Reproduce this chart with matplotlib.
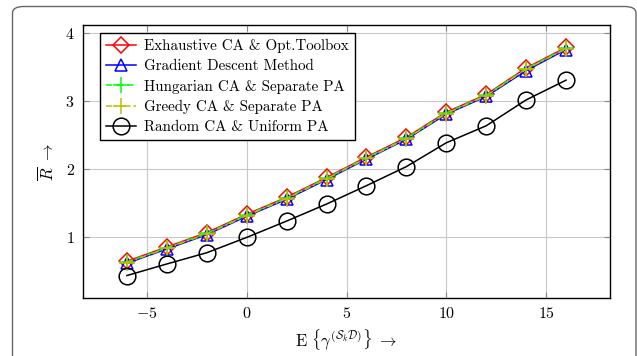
import numpy as np
import matplotlib
matplotlib.use("Agg")
import matplotlib.pyplot as plt
from matplotlib.patches import FancyBboxPatch

plt.rcParams['font.family'] = ['cmr10', 'DejaVu Serif']
plt.rcParams['mathtext.fontset'] = 'cm'
plt.rcParams['axes.formatter.use_mathtext'] = True

# mean SNR values (dB)
snr = [-6, -4, -2, 0, 2, 4, 6, 8, 10, 12, 14, 16]

# average rate per series
exhaustive = [0.65, 0.86, 1.07, 1.34, 1.59, 1.88, 2.18, 2.47, 2.84, 3.10, 3.49, 3.79]
gradient = [0.62, 0.83, 1.04, 1.31, 1.56, 1.85, 2.15, 2.44, 2.81, 3.07, 3.45, 3.76]
hungarian = [0.64, 0.85, 1.06, 1.33, 1.58, 1.87, 2.17, 2.46, 2.83, 3.09, 3.48, 3.78]
greedy = [0.63, 0.84, 1.05, 1.32, 1.57, 1.86, 2.16, 2.45, 2.82, 3.08, 3.47, 3.77]
random_ca = [0.44, 0.61, 0.775, 1.00, 1.24, 1.49, 1.76, 2.04, 2.39, 2.64, 3.02, 3.31]

labels = ["Exhaustive CA & Opt.Toolbox", "Gradient Descent Method",
          "Hungarian CA & Separate PA", "Greedy CA & Separate PA",
          "Random CA & Uniform PA"]

fig = plt.figure(figsize=(6.37, 3.56), dpi=100)

# rounded frame around the figure
frame = FancyBboxPatch((12.5 / 637, -0.2), (636 - 12.5) / 637, 1.2 - 6.5 / 356,
                       boxstyle="round,pad=0,rounding_size=0.018",
                       transform=fig.transFigure, fill=False,
                       edgecolor="#666666", linewidth=1.0, clip_on=False)
fig.patches.append(frame)

ax = fig.add_axes([83 / 637, 1 - 298 / 356, (610 - 83) / 637, (298 - 25) / 356])

ax.plot(snr, exhaustive, color='red', lw=1.1, marker='D', markersize=8,
        mfc='none', mec='red', mew=1.1, label=labels[0])
ax.plot(snr, gradient, color='blue', lw=1.1, marker='^', markersize=9,
        mfc='none', mec='blue', mew=1.1, label=labels[1])
ax.plot(snr, hungarian, color='#00ff00', lw=1.1, ls=(0, (4, 3)), marker='+',
        markersize=11, mew=1.1, label=labels[2])
ax.plot(snr, greedy, color='#bfbf00', lw=1.1, ls=(0, (4, 2, 1, 2)), marker='+',
        markersize=11, mew=1.1, label=labels[3])
ax.plot(snr, random_ca, color='black', lw=1.1, marker='o', markersize=12,
        mfc='none', mec='black', mew=1.1, label=labels[4])

ax.set_xlim(-8.2, 18.2)
ax.set_ylim(0.11, 4.12)
ax.set_xticks([-5, 0, 5, 10, 15])
ax.set_yticks([1, 2, 3, 4])
ax.grid(True, color='#c8c8c8', lw=0.8)
ax.set_axisbelow(True)
ax.tick_params(direction='in', length=4, color='#888888', labelsize=11.5,
               top=True, right=True, pad=6)
for s in ax.spines.values():
    s.set_linewidth(1.0)

ax.set_xlabel(r'$\mathrm{E}\ \left\{\gamma^{(\mathcal{S}_k\mathcal{D})}\right\}\ \rightarrow$',
              fontsize=12, labelpad=4)
ax.set_ylabel(r'$\overline{R}\ \rightarrow$', fontsize=12, labelpad=6)

leg = ax.legend(loc='upper left', bbox_to_anchor=(0.033, 0.97), fontsize=10.8,
                frameon=True, fancybox=False, framealpha=1, edgecolor='black',
                handlelength=2.0, borderpad=0.4, labelspacing=0.42,
                handletextpad=0.5, borderaxespad=0)
leg.get_frame().set_linewidth(1.0)

fig.savefig('out.png', dpi=100)
